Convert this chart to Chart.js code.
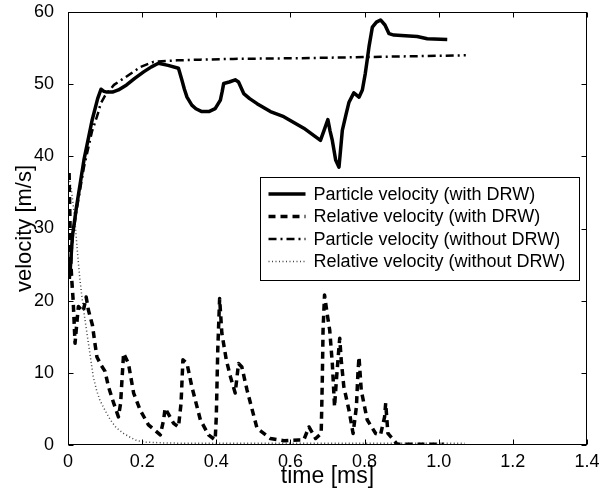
<!DOCTYPE html>
<html><head><meta charset="utf-8">
<script src="https://cdn.jsdelivr.net/npm/chart.js@4.4.0/dist/chart.umd.min.js"></script>
<style>html,body{margin:0;padding:0;background:#fff}canvas{display:block}</style>
</head><body>
<canvas id="c" width="601" height="498"></canvas>
<script>
// ---- data ----
const xTicks = [0, 0.2, 0.4, 0.6, 0.8, 1, 1.2, 1.4];
const yTicks = [0, 10, 20, 30, 40, 50, 60];
const seriesNames = [
  'Particle velocity (with DRW)',
  'Relative velocity (with DRW)',
  'Particle velocity (without DRW)',
  'Relative velocity (without DRW)'
];
const xTitle = 'time [ms]';
const yTitle = 'velocity [m/s]';

// [time ms, velocity m/s]
const particleWithDRW = [
  [0.005,23.5],[0.012,29],[0.023,33],[0.043,39.5],[0.065,45],[0.08,48],[0.089,49.3],[0.097,49.0],
  [0.105,48.9],[0.12,48.9],[0.136,49.2],[0.158,49.9],[0.18,50.8],[0.204,51.7],[0.225,52.4],[0.244,52.9],
  [0.27,52.6],[0.298,52.2],[0.307,50.6],[0.314,49.3],[0.321,48.2],[0.334,47.1],[0.345,46.6],[0.361,46.2],
  [0.38,46.2],[0.397,46.6],[0.411,47.8],[0.416,49.0],[0.42,50.1],[0.435,50.3],[0.451,50.6],[0.46,50.3],
  [0.474,48.7],[0.49,48.0],[0.51,47.3],[0.546,46.2],[0.582,45.5],[0.636,43.9],[0.681,42.2],[0.69,43.5],
  [0.701,45.1],[0.707,43.5],[0.713,42.2],[0.722,39.5],[0.731,38.5],[0.74,43.6],[0.75,45.8],[0.758,47.5],
  [0.771,48.8],[0.785,48.2],[0.794,49.2],[0.802,51.5],[0.807,53.3],[0.812,55.2],[0.821,57.9],[0.832,58.6],
  [0.843,58.9],[0.855,58.2],[0.866,57.0],[0.879,56.8],[0.91,56.7],[0.942,56.6],[0.969,56.3],[1.023,56.2]
];
const relativeWithDRW = [
  [0.003,37.7],[0.005,32],[0.007,26],[0.01,23],[0.014,20],[0.019,14.1],[0.024,17],[0.028,19.2],
  [0.035,18.8],[0.041,18.5],[0.049,20.5],[0.055,18.7],[0.066,16.6],[0.072,14.3],[0.078,12.2],[0.09,11],
  [0.1,10.2],[0.109,8.1],[0.122,6],[0.136,3.9],[0.142,5.8],[0.145,8.5],[0.15,12.7],[0.163,11.3],
  [0.177,7.2],[0.195,4.8],[0.217,2.8],[0.249,1.4],[0.258,3.5],[0.262,5.1],[0.285,3.0],[0.298,2.5],
  [0.305,5.8],[0.31,11.8],[0.321,11.3],[0.334,8.1],[0.357,3.5],[0.379,1.4],[0.397,0.7],[0.4,3.9],
  [0.404,13.2],[0.409,20.3],[0.415,15.5],[0.427,11.8],[0.438,9.5],[0.451,7.2],[0.46,11.3],[0.469,10.8],
  [0.483,7.6],[0.51,2.3],[0.546,0.9],[0.582,0.6],[0.622,0.7],[0.636,0.7],[0.65,2.5],[0.668,0.9],
  [0.683,1.6],[0.686,9],[0.688,15.9],[0.692,20.8],[0.699,18.2],[0.706,15.9],[0.713,11.3],[0.719,5.3],
  [0.724,9],[0.731,13.6],[0.733,14.8],[0.737,11.8],[0.744,8.1],[0.758,4.8],[0.769,1.6],[0.778,5.3],
  [0.782,9.9],[0.785,12.2],[0.791,7.6],[0.807,3.5],[0.83,1.6],[0.843,1.4],[0.854,3.9],[0.857,5.8],
  [0.863,1.6],[0.888,0.1],[0.93,0.1],[1.013,0.1]
];
const particleNoDRW = [
  [0.005,23],[0.012,28.5],[0.023,32.5],[0.043,38.5],[0.065,43.5],[0.08,45.8],[0.088,47.3],[0.1,48.4],
  [0.124,49.9],[0.156,51],[0.196,52.4],[0.231,53.1],[0.294,53.3],[0.357,53.4],[0.446,53.5],[0.627,53.6],
  [0.85,53.8],[1.073,54.0]
];
const relativeNoDRW = [
  [0.0,38],[0.01,35],[0.018,31.5],[0.025,27],[0.032,23],[0.04,19.5],[0.046,17.3],[0.059,12.7],
  [0.068,9.5],[0.077,7.6],[0.086,6.2],[0.1,4.8],[0.114,3.5],[0.13,2.4],[0.15,1.6],[0.17,1.0],
  [0.186,0.6],[0.21,0.4],[0.25,0.3],[0.3,0.25],[0.6,0.25],[1.07,0.25]
];

// ---- chart ----
const FONT = "'Liberation Sans', Arial, Helvetica, sans-serif";
const toPts = a => a.map(p => ({x: p[0], y: p[1]}));

const framePlugin = {
  id: 'frame',
  afterDatasetsDraw(chart) {
    const {ctx, chartArea: ca, scales: {x, y}} = chart;
    const L = Math.round(ca.left) + 0.5, R = Math.round(ca.right) - 0.5;
    const T = Math.round(ca.top) + 0.5, B = Math.round(ca.bottom) - 0.5;
    ctx.save();
    ctx.strokeStyle = '#000';
    ctx.lineWidth = 1;
    ctx.setLineDash([]);
    ctx.strokeRect(L, T, R - L, B - T);
    const tl = 5;
    ctx.beginPath();
    xTicks.forEach(v => {
      const px = Math.round(x.getPixelForValue(v)) + 0.5;
      ctx.moveTo(px, B); ctx.lineTo(px, B - tl);
      ctx.moveTo(px, T); ctx.lineTo(px, T + tl);
    });
    yTicks.forEach(v => {
      const py = Math.round(y.getPixelForValue(v)) + 0.5;
      ctx.moveTo(L, py); ctx.lineTo(L + tl, py);
      ctx.moveTo(R, py); ctx.lineTo(R - tl, py);
    });
    ctx.stroke();

    // legend
    const bx = Math.round(ca.right) - 326.5, by = Math.round(ca.top) + 165.5;
    const bw = 319, bh = 103;
    ctx.fillStyle = '#fff';
    ctx.fillRect(bx, by, bw, bh);
    ctx.strokeRect(bx, by, bw, bh);
    ctx.font = '18px ' + FONT;
    ctx.textBaseline = 'middle';
    ctx.fillStyle = '#000';
    chart.data.datasets.forEach((ds, i) => {
      const yy = by + 16.5 + i * 22.5;
      ctx.save();
      ctx.lineWidth = ds.borderWidth;
      ctx.setLineDash(ds.borderDash || []);
      ctx.strokeStyle = ds.borderColor;
      ctx.beginPath();
      ctx.moveTo(bx + 8, yy); ctx.lineTo(bx + 45, yy);
      ctx.stroke();
      ctx.restore();
      ctx.fillText(ds.label, bx + 53, yy + 1);
    });
    ctx.restore();
  }
};

new Chart(document.getElementById('c'), {
  type: 'line',
  data: {
    datasets: [
      {label: seriesNames[0], data: toPts(particleWithDRW), borderColor: '#000', borderWidth: 3.5, borderDash: []},
      {label: seriesNames[1], data: toPts(relativeWithDRW), borderColor: '#000', borderWidth: 3.5, borderDash: [7, 5]},
      {label: seriesNames[2], data: toPts(particleNoDRW), borderColor: '#000', borderWidth: 2.5, borderDash: [8, 4, 2, 4]},
      {label: seriesNames[3], data: toPts(relativeNoDRW), borderColor: '#444', borderWidth: 1.5, borderDash: [1, 2.5]}
    ]
  },
  options: {
    responsive: false,
    animation: false,
    devicePixelRatio: 1,
    elements: {point: {radius: 0}, line: {tension: 0, fill: false, borderCapStyle: 'butt', borderJoinStyle: 'round'}},
    layout: {padding: {top: 12, right: 14, left: 0, bottom: 0}},
    plugins: {legend: {display: false}, tooltip: {enabled: false}},
    scales: {
      x: {
        type: 'linear', min: 0, max: 1.4,
        afterBuildTicks(s) { s.ticks = xTicks.map(v => ({value: v})); },
        afterFit(s) { s.height = 53; s.paddingLeft = 0; s.paddingRight = 0; },
        grid: {display: false},
        border: {display: false},
        ticks: {color: '#000', font: {family: FONT, size: 18}, padding: -2, maxRotation: 0},
        title: {display: true, text: xTitle, color: '#000', font: {family: FONT, size: 23}, padding: {top: 0, bottom: 8}}
      },
      y: {
        type: 'linear', min: 0, max: 60,
        afterBuildTicks(s) { s.ticks = yTicks.map(v => ({value: v})); },
        afterFit(s) { s.width = 68; s.paddingTop = 0; s.paddingBottom = 0; },
        grid: {display: false},
        border: {display: false},
        ticks: {color: '#000', font: {family: FONT, size: 18}, padding: 6},
        title: {display: true, text: yTitle, color: '#000', font: {family: FONT, size: 22}, padding: {top: 12, bottom: 0}}
      }
    }
  },
  plugins: [framePlugin]
});
</script>
</body></html>
